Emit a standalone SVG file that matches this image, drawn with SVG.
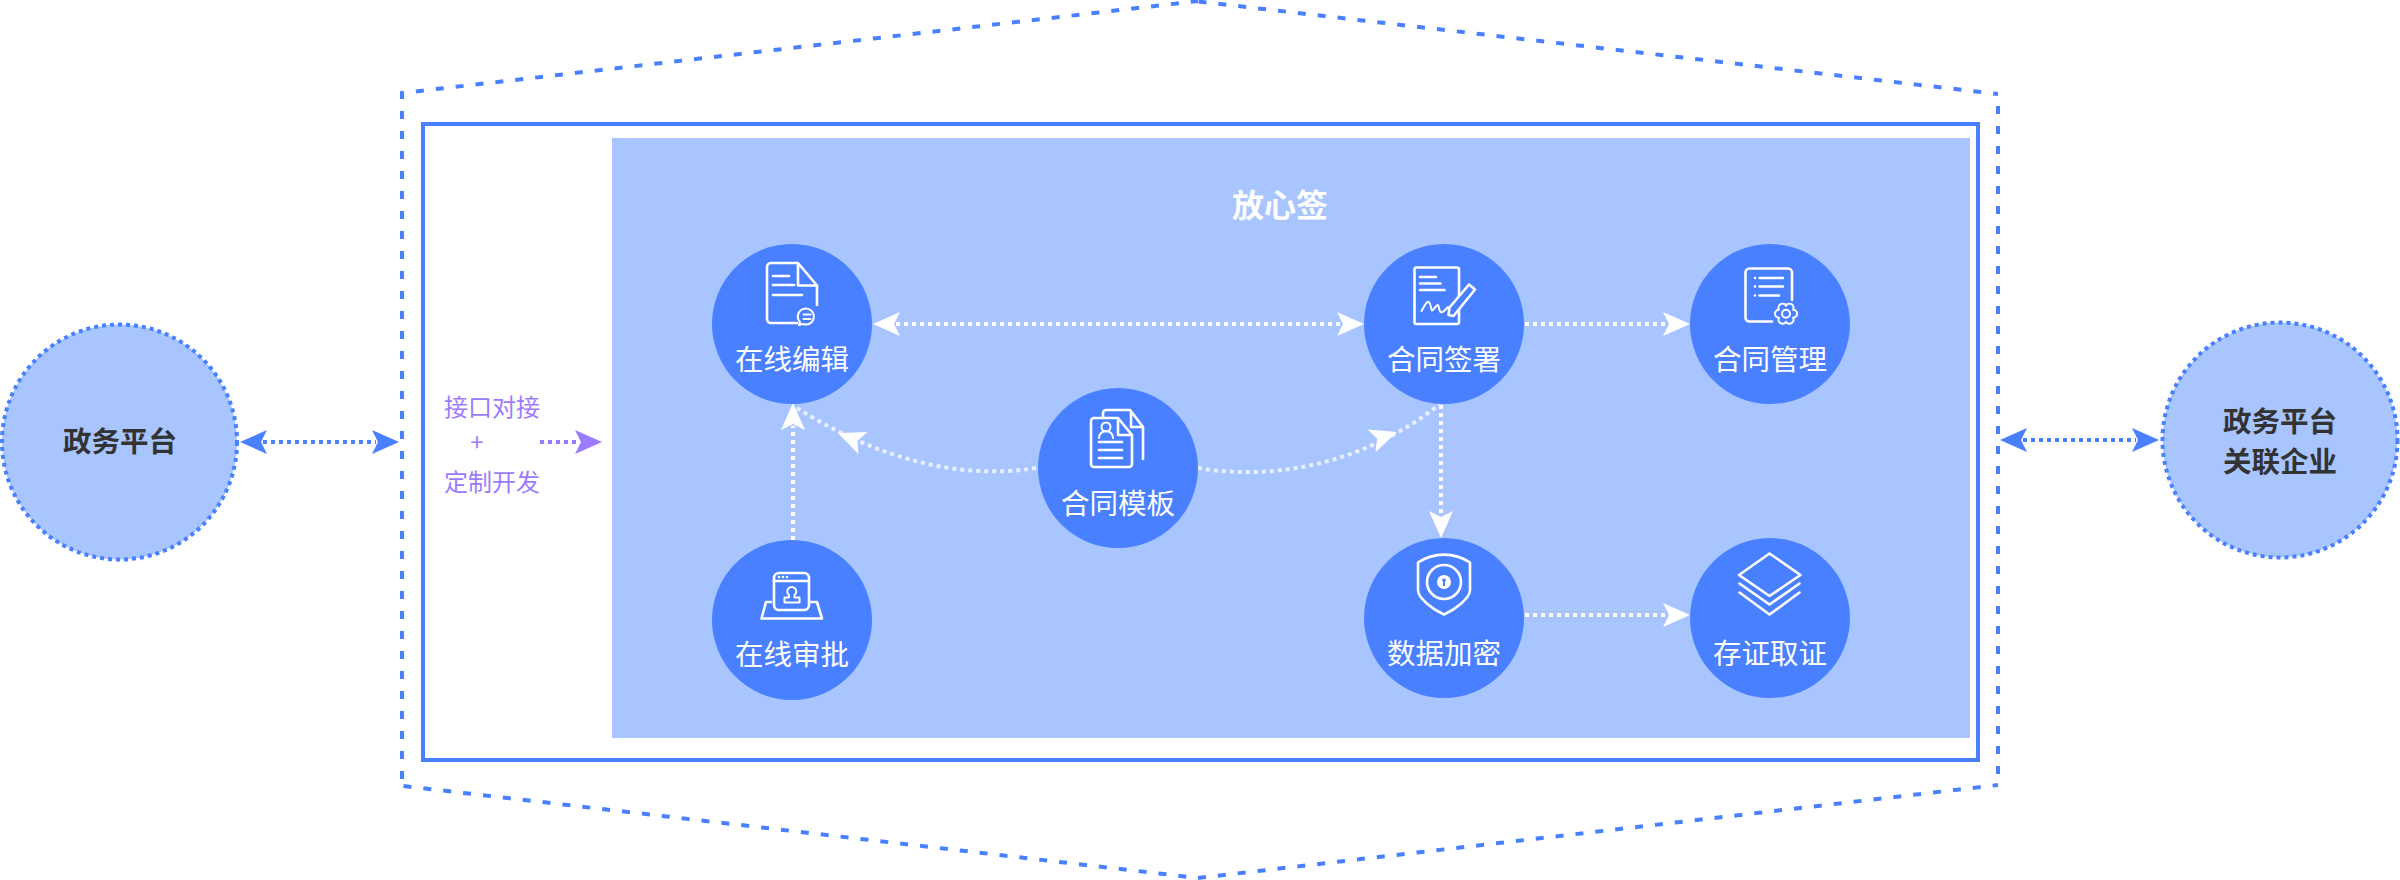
<svg xmlns="http://www.w3.org/2000/svg" xmlns:xlink="http://www.w3.org/1999/xlink" width="2400" height="880" viewBox="0 0 2400 880">
<style>
text{font-family:"Noto Sans CJK SC","Liberation Sans",sans-serif;text-anchor:middle}
.nt{font-size:28.500px;fill:#fff}
.bt{font-size:28.500px;font-weight:700;fill:#333}
.pt{font-size:24px;fill:#9b7bff}
.node{fill:#4880ff}
.ext{fill:#a8c5ff;stroke:#4880ff;stroke-width:4;stroke-dasharray:4 4}
.ic{fill:none;stroke:#fff;stroke-width:2.600;stroke-linecap:round;stroke-linejoin:round}
.ict{fill:none;stroke:#fff;stroke-width:2;stroke-linecap:round;stroke-linejoin:round}
.dash{fill:none;stroke:#4880ff;stroke-width:4;stroke-dasharray:8 12}
.w{fill:none;stroke:#fff;stroke-width:4;stroke-dasharray:4 4}
.wc{fill:none;stroke:#e9effe;stroke-width:4;stroke-dasharray:4 4}
.b{fill:none;stroke:#4880ff;stroke-width:4;stroke-dasharray:4 4}
.p{fill:none;stroke:#9b7bff;stroke-width:4;stroke-dasharray:4 4}
</style>
<defs>
<marker id="hw" markerUnits="userSpaceOnUse" markerWidth="30" markerHeight="28" refX="4" refY="14" orient="auto-start-reverse"><path d="M0 2L27 14L0 26L6 14Z" fill="#fff"/></marker>
<marker id="hb" markerUnits="userSpaceOnUse" markerWidth="30" markerHeight="28" refX="4" refY="14" orient="auto-start-reverse"><path d="M0 2L27 14L0 26L6 14Z" fill="#4880ff"/></marker>
<marker id="hp" markerUnits="userSpaceOnUse" markerWidth="30" markerHeight="28" refX="4" refY="14" orient="auto-start-reverse"><path d="M0 2L27 14L0 26L6 14Z" fill="#9b7bff"/></marker>
<path id="head" d="M-27 -12L0 0L-27 12L-21 0Z" fill="#fff"/>
</defs>
<g id="frame">
<path class="dash" d="M402 779V93L1198 1"/>
<path class="dash" d="M1198.500 1.500L1998 94"/>
<path class="dash" d="M1998 106V785"/>
<path class="dash" d="M403.500 786L1198 878"/>
<path class="dash" d="M1198 878L1998 785"/>
<rect x="423" y="124" width="1555" height="636" fill="#fff" stroke="#4880ff" stroke-width="4"/>
<rect x="612" y="138" width="1358" height="600" fill="#a8c5ff"/>
<text x="1280" y="217" font-size="32" font-weight="700" fill="#fff">放心签</text>
</g>
<g id="connectors">
<path class="w" d="M896 324H1341" marker-start="url(#hw)" marker-end="url(#hw)"/>
<path class="w" d="M1525 324H1667" marker-end="url(#hw)"/>
<path class="w" d="M1525 615H1667" marker-end="url(#hw)"/>
<path class="w" d="M793 540V426" marker-end="url(#hw)"/>
<path class="w" d="M1441 405V515" marker-end="url(#hw)"/>
<path class="wc" d="M1036 468C960 480 880 460 795 407"/>
<use xlink:href="#head" href="#head" transform="translate(838 433) rotate(202)"/>
<path class="wc" d="M1198 468C1280 482 1370 460 1440 404"/>
<use xlink:href="#head" href="#head" transform="translate(1397 432) rotate(-19)"/>
<path class="b" d="M263 442H376" marker-start="url(#hb)" marker-end="url(#hb)"/>
<path class="b" d="M2023 440H2136" marker-start="url(#hb)" marker-end="url(#hb)"/>
<path class="p" d="M540 442H579" marker-end="url(#hp)"/>
</g>
<g id="node-zwpt">
<circle class="ext" cx="119.500" cy="442" r="117.500"/>
<text class="bt" x="120" y="452">政务平台</text>
</g>
<g id="node-glqy">
<circle class="ext" cx="2280" cy="440" r="117.500"/>
<text class="bt" x="2280" y="432">政务平台</text>
<text class="bt" x="2280" y="472">关联企业</text>
</g>
<g id="node-jk">
<text class="pt" x="492" y="416">接口对接</text>
<text class="pt" x="477" y="451">+</text>
<text class="pt" x="492" y="491">定制开发</text>
</g>
<g id="node-zxbj">
<circle class="node" cx="792" cy="324" r="80"/>
<path class="ic" d="M797 323H771a4 4 0 0 1-4-4V267a4 4 0 0 1 4-4H798L817 285.500V305M798 264V285.500H817M773 276H789M773 285H794M773 295H802"/>
<path class="ict" d="M800 322a8 8 0 1 1 3 2L799 325ZM803.500 314.500H810.500M803.500 319H810.500"/>
<text class="nt" x="792" y="370">在线编辑</text>
</g>
<g id="node-zxsp">
<circle class="node" cx="792" cy="620" r="80"/>
<rect class="ic" x="774" y="573" width="35" height="37" rx="5"/>
<path class="ic" d="M774 581H809M771 602H766L761.500 618.500H822L817 602H809"/>
<path class="ict" d="M789 595a4.500 4.500 0 1 1 5.500 0V597.500H799.500V602.500H784.500V597.500H789Z"/>
<circle cx="779" cy="577" r="1.300" fill="#fff"/><circle cx="783" cy="577" r="1.300" fill="#fff"/><circle cx="787" cy="577" r="1.300" fill="#fff"/>
<text class="nt" x="792" y="665">在线审批</text>
</g>
<g id="node-htmb">
<circle class="node" cx="1118" cy="468" r="80"/>
<path class="ic" d="M1103 417V413a3 3 0 0 1 3-3H1130L1143 427V459M1131 411V427H1143"/>
<path class="ic" d="M1118 418H1094a3 3 0 0 0-3 3V464a3 3 0 0 0 3 3H1129a3 3 0 0 0 3-3V435L1118 418ZM1118 419V435H1132M1099 442H1122M1099 450H1122M1099 458H1122"/>
<path class="ict" d="M1099 438a7 7 0 0 1 14 0"/><circle class="ict" cx="1106" cy="427" r="4.500"/>
<text class="nt" x="1118" y="514">合同模板</text>
</g>
<g id="node-htqs">
<circle class="node" cx="1444" cy="324" r="80"/>
<rect class="ic" x="1414.500" y="267.500" width="44.500" height="56.500" rx="2"/>
<path class="ic" d="M1420 277H1436M1420 283.500H1440.500M1420 290H1444.500"/>
<path class="ict" d="M1421.500 311C1426 303 1428 299 1430 304S1431 313 1434 309S1438 303 1439 308S1441 315 1448 307"/>
<path d="M1448.500 315L1449.500 307.500L1469 284.500L1475 289.500L1453.500 316Z" fill="#4880ff" stroke="#fff" stroke-width="2.600" stroke-linejoin="round"/>
<text class="nt" x="1444" y="370">合同签署</text>
</g>
<g id="node-htgl">
<circle class="node" cx="1770" cy="324" r="80"/>
<path class="ic" d="M1772 321.500H1749.500a4 4 0 0 1-4-4V272.500a4 4 0 0 1 4-4H1788a4 4 0 0 1 4 4V300M1759.500 278H1783M1759.500 286.500H1783M1759.500 295.500H1779"/>
<circle cx="1755" cy="278" r="1.300" fill="#fff"/><circle cx="1755" cy="286.500" r="1.300" fill="#fff"/><circle cx="1755" cy="295.500" r="1.300" fill="#fff"/>
<path class="ict" d="M1793 309.700A4 4 0 0 1 1793 317.700A4 4 0 0 1 1786 321.700A4 4 0 0 1 1779 317.700A4 4 0 0 1 1779 309.700A4 4 0 0 1 1786 305.700A4 4 0 0 1 1793 309.700Z"/>
<circle class="ict" cx="1786" cy="313.700" r="4"/>
<text class="nt" x="1770" y="370">合同管理</text>
</g>
<g id="node-sjjm">
<circle class="node" cx="1444" cy="618" r="80"/>
<path class="ic" d="M1418 562.500C1434 552 1454 552 1470 562.500V590C1470 598 1456 609 1444 614.500C1432 609 1418 598 1418 590Z"/>
<circle class="ic" cx="1444" cy="582" r="17"/>
<circle cx="1444" cy="582" r="7" fill="#fff"/>
<path d="M1444 578.500a1.800 1.800 0 0 1 1 3.300V586H1443V581.800a1.800 1.800 0 0 1 1-3.300Z" fill="#4880ff"/>
<text class="nt" x="1444" y="664">数据加密</text>
</g>
<g id="node-czqz">
<circle class="node" cx="1770" cy="618" r="80"/>
<path class="ic" d="M1769.500 553.500L1800.500 575L1769.500 596L1739 575ZM1739.500 583.500L1769.500 604.500L1799.500 583.500M1739.500 592.500L1769.500 614.500L1799.500 592.500"/>
<text class="nt" x="1770" y="664">存证取证</text>
</g>
</svg>
